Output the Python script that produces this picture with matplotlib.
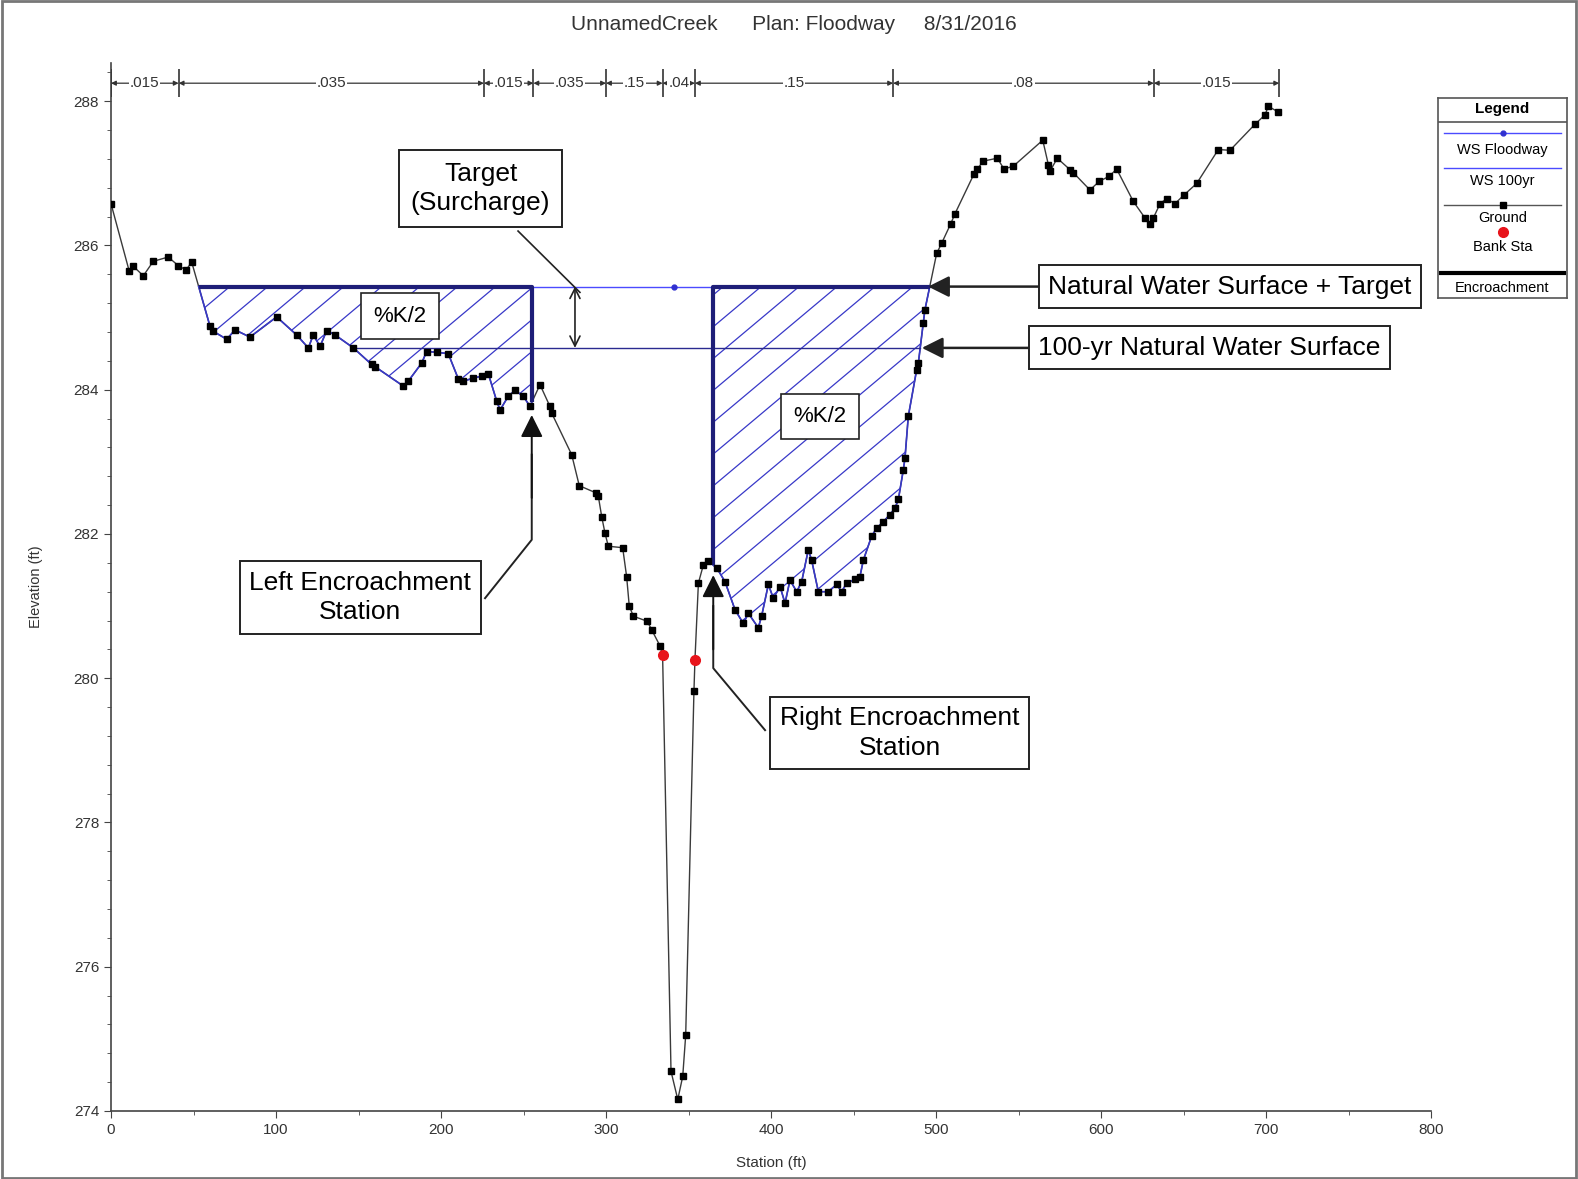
import numpy as np
import matplotlib
matplotlib.use("Agg")
import matplotlib.pyplot as plt
from matplotlib.patches import Polygon, Rectangle

plt.rcParams['font.family'] = ['Liberation Sans', 'DejaVu Sans']

# ground profile (station ft, elevation ft)
station = [0, 11.1, 13.1, 19.6, 25.6, 34.7, 40.8, 45.5, 48.9, 60, 62, 70.1, 75.2, 84.2,
           100.4, 112.5, 119.6, 122.6, 126.7, 130.7, 135.8, 146.9, 158, 160, 177.2, 180.2,
           188.3, 191.3, 197.4, 204.4, 210.5, 213.5, 219.6, 224.7, 228.7, 233.8, 235.8,
           240.8, 244.8, 249.9, 253.9, 260, 266, 267, 279.2, 283.8, 293.9, 295.3, 297.4,
           299.4, 301.4, 310.1, 312.5, 314.1, 316.6, 325, 327.7, 332.7, 334.3, 339.4,
           343.5, 346.5, 348.3, 353.3, 353.9, 356, 359, 362, 367.1, 372.1, 378.2, 383.2,
           386.3, 392.3, 394.3, 398.4, 401.4, 405.5, 408.5, 411.5, 415.6, 418.6, 422.6,
           424.6, 428.7, 434.7, 439.8, 442.8, 445.9, 450.9, 453.9, 456, 461, 464, 468.1,
           472.1, 475.2, 477.2, 480.2, 481.2, 483.2, 488.3, 489.3, 492.3, 493.3, 500.4,
           503.4, 508.9, 511.5, 523, 525, 528.7, 537.2, 541.2, 546.9, 564.7, 568.1, 569.1,
           573.5, 581.2, 583.2, 593.3, 599, 605, 609.5, 619.6, 626.7, 629.7, 631.7, 635.8,
           639.8, 644.8, 650.3, 658, 671.1, 678.2, 693.3, 699.4, 701.4, 707.5]
elevation = [286.58, 285.64, 285.72, 285.58, 285.78, 285.84, 285.72, 285.66, 285.77, 284.88,
             284.81, 284.70, 284.83, 284.73, 285.01, 284.76, 284.58, 284.76, 284.60, 284.82,
             284.76, 284.58, 284.35, 284.32, 284.05, 284.12, 284.37, 284.53, 284.52, 284.50,
             284.15, 284.12, 284.16, 284.19, 284.22, 283.84, 283.72, 283.91, 283.99, 283.91,
             283.77, 284.07, 283.77, 283.68, 283.10, 282.67, 282.57, 282.53, 282.24, 282.01,
             281.83, 281.81, 281.41, 281.00, 280.86, 280.79, 280.67, 280.45, 280.32, 274.55,
             274.16, 274.48, 275.05, 279.82, 280.25, 281.32, 281.57, 281.62, 281.53, 281.34,
             280.95, 280.76, 280.90, 280.70, 280.86, 281.30, 281.11, 281.27, 281.04, 281.36,
             281.20, 281.34, 281.78, 281.64, 281.20, 281.20, 281.30, 281.20, 281.32, 281.37,
             281.41, 281.64, 281.97, 282.08, 282.17, 282.27, 282.36, 282.48, 282.89, 283.05,
             283.63, 284.28, 284.37, 284.93, 285.11, 285.89, 286.03, 286.30, 286.44, 286.99,
             287.06, 287.17, 287.21, 287.06, 287.10, 287.46, 287.12, 287.03, 287.21, 287.05,
             287.01, 286.77, 286.89, 286.96, 287.06, 286.61, 286.38, 286.30, 286.38, 286.58,
             286.65, 286.58, 286.70, 286.86, 287.33, 287.32, 287.68, 287.81, 287.93, 287.85]

bank_sta = [334.3, 353.9]
bank_elev = [280.32, 280.25]

ws_floodway = 285.43
ws_100yr = 284.58
ws_100yr_left = 147.0
enc_left = 255.0
enc_right = 365.0

n_breaks = [0, 41, 226, 256, 300, 334.3, 353.9, 474, 632, 708]
n_values = [".015", ".035", ".015", ".035", ".15", ".04", ".15", ".08", ".015"]

sta = np.array(station)
elev = np.array(elevation)

W, H = 1578, 1179
fig = plt.figure(figsize=(W / 100, H / 100), dpi=100)
ax = fig.add_axes([111 / W, 1 - 1111 / H, 1320 / W, (1111 - 63) / H])
ax.set_xlim(0, 800)
ax.set_ylim(274, 288.53)


def crossing(x0, x1, level):
    # station where the ground crosses a level between two stations
    m = (sta >= x0) & (sta <= x1)
    xs, ys = sta[m], elev[m]
    for i in range(len(xs) - 1):
        if (ys[i] - level) * (ys[i + 1] - level) <= 0:
            return xs[i] + (level - ys[i]) / (ys[i + 1] - ys[i]) * (xs[i + 1] - xs[i])
    return x0


left_start = crossing(40, 70, ws_floodway)
right_end = crossing(480, 510, ws_floodway)
right_100 = crossing(480, 510, ws_100yr)

# encroachment polygons with diagonal hatching
hatch_col = "#3838c8"
slope = np.tan(np.radians(40)) * (1.65 / 72.14)
for a, b in [(left_start, enc_left), (enc_right, right_end)]:
    m = (sta > a) & (sta < b)
    xs = np.concatenate([[a], sta[m], [b], [b, a]])
    ys = np.concatenate([[np.interp(a, sta, elev)], elev[m], [np.interp(b, sta, elev)],
                         [ws_floodway, ws_floodway]])
    poly = Polygon(np.column_stack([xs, ys]), closed=True, facecolor="none",
                   edgecolor=hatch_col, lw=1.2, zorder=3)
    ax.add_patch(poly)
    for c in np.arange(-20, 900, 23.0):
        hx = np.array([c - 700, c + 50])
        hy = ws_floodway + slope * (hx - c)
        ln, = ax.plot(hx, hy, color=hatch_col, lw=0.9, zorder=3)
        ln.set_clip_path(poly)

# ground
ax.plot(sta, elev, color="#3a3a3a", lw=1.0, zorder=2)
ax.plot(sta, elev, ls="none", marker="s", ms=4.5, color="black", zorder=5)
ax.plot(bank_sta, bank_elev, ls="none", marker="o", ms=7, color="#e8141b", zorder=6)

# water surfaces
ax.plot([ws_100yr_left, right_100], [ws_100yr, ws_100yr], color="#2a2a90", lw=1.0, zorder=4)
ax.plot([enc_left, enc_right], [ws_floodway, ws_floodway], color="#4b4bff", lw=1.0, zorder=4)
ax.plot([341], [ws_floodway], ls="none", marker="o", ms=3.5, color="#3030d0", zorder=5)

# encroachment outline
enc_col = "#1e1e78"
ax.plot([left_start, enc_left, enc_left], [ws_floodway, ws_floodway, np.interp(enc_left, sta, elev)],
        color=enc_col, lw=3, zorder=4, solid_capstyle="butt")
ax.plot([enc_right, enc_right, right_end], [np.interp(enc_right, sta, elev), ws_floodway, ws_floodway],
        color=enc_col, lw=3, zorder=4, solid_capstyle="butt")

# Manning's n bar
ny = 288.25
ax.vlines(n_breaks, ny - 0.19, ny + 0.19, color="#333333", lw=1.2, zorder=4)
for i, lab in enumerate(n_values):
    a, b = n_breaks[i], n_breaks[i + 1]
    ax.annotate("", xy=(b, ny), xytext=(a, ny),
                arrowprops=dict(arrowstyle="<|-|>", mutation_scale=7, lw=0.9,
                                color="#333333", shrinkA=0, shrinkB=0))
    ax.text((a + b) / 2, ny, lab, ha="center", va="center", fontsize=11, color="#333333",
            bbox=dict(facecolor="white", edgecolor="none", pad=0.5), zorder=5)

# annotation boxes
afs = 19
box = dict(boxstyle="square,pad=0.36", facecolor="white", edgecolor="#222222", lw=1.4)
box2 = dict(boxstyle="square,pad=0.45", facecolor="white", edgecolor="#222222", lw=1.4)
ax.text(224, 286.79, "Target\n(Surcharge)", ha="center", va="center", fontsize=afs,
        bbox=box2, zorder=7, linespacing=1.3)
ax.plot([246.7, 284.2], [286.20, 285.35], color="#222222", lw=1.2, zorder=6)
ax.annotate("", xy=(281.2, ws_floodway), xytext=(281.2, ws_100yr),
            arrowprops=dict(arrowstyle="<->", lw=1.2, color="#222222", mutation_scale=18,
                            shrinkA=0, shrinkB=0), zorder=6)

kbox = dict(boxstyle="square,pad=0.55", facecolor="white", edgecolor="#222222", lw=1.2)
ax.text(175, 285.02, "%K/2", ha="center", va="center", fontsize=16, bbox=kbox, zorder=7)
ax.text(429.7, 283.63, "%K/2", ha="center", va="center", fontsize=16, bbox=kbox, zorder=7)

ax.annotate("Natural Water Surface + Target", xy=(right_end - 1, ws_floodway), xytext=(568, ws_floodway),
            ha="left", va="center", fontsize=afs, bbox=box, zorder=7,
            arrowprops=dict(arrowstyle="-|>", mutation_scale=32, lw=1.8, color="#222222",
                            shrinkA=0, shrinkB=0))
ax.annotate("100-yr Natural Water Surface", xy=(right_100 + 1, ws_100yr), xytext=(562, ws_100yr),
            ha="left", va="center", fontsize=afs, bbox=box, zorder=7,
            arrowprops=dict(arrowstyle="-|>", mutation_scale=32, lw=1.8, color="#222222",
                            shrinkA=0, shrinkB=0))

ax.text(151, 281.12, "Left Encroachment\nStation", ha="center", va="center", fontsize=afs,
        bbox=box, zorder=7, linespacing=1.3)
ax.plot([226.7, enc_left, enc_left], [281.11, 281.92, 283.1], color="#222222", lw=1.4, zorder=6)
ax.annotate("", xy=(enc_left, 283.65), xytext=(enc_left, 282.5),
            arrowprops=dict(arrowstyle="-|>", mutation_scale=34, lw=1.4, color="#111111",
                            shrinkA=0, shrinkB=0), zorder=6)

ax.text(478, 279.24, "Right Encroachment\nStation", ha="center", va="center", fontsize=afs,
        bbox=box, zorder=7, linespacing=1.3)
ax.plot([396.4, enc_right, enc_right], [279.28, 280.14, 281.0], color="#222222", lw=1.4, zorder=6)
ax.annotate("", xy=(enc_right, 281.43), xytext=(enc_right, 280.4),
            arrowprops=dict(arrowstyle="-|>", mutation_scale=34, lw=1.4, color="#111111",
                            shrinkA=0, shrinkB=0), zorder=6)

# axes styling
for s in ["top", "right"]:
    ax.spines[s].set_visible(False)
for s in ["left", "bottom"]:
    ax.spines[s].set_color("#444444")
    ax.spines[s].set_linewidth(1.2)
ax.set_xticks(np.arange(0, 801, 100))
ax.set_xticks(np.arange(0, 801, 50), minor=True)
ax.set_yticks(np.arange(274, 288.1, 2))
ax.set_yticks(np.arange(274, 288.6, 0.4), minor=True)
ax.tick_params(which="major", direction="out", length=5, color="#444444", labelsize=11,
               labelcolor="#333333")
ax.tick_params(which="minor", direction="out", length=3, color="#444444")
ax.set_xlabel("Station (ft)", fontsize=11, color="#333333", labelpad=14)
ax.set_ylabel("Elevation (ft)", fontsize=10.5, color="#333333", labelpad=22)

fig.text(794 / W, 1 - 25 / H, "UnnamedCreek      Plan: Floodway     8/31/2016",
         ha="center", va="center", fontsize=15, color="#333333")

# legend panel
lg = fig.add_axes([1438 / W, 1 - 298 / H, 129 / W, 200 / H])
lg.set_xlim(0, 129)
lg.set_ylim(200, 0)
lg.set_xticks([])
lg.set_yticks([])
for s in lg.spines.values():
    s.set_color("#555555")
    s.set_linewidth(1.2)
lg.text(64.5, 11, "Legend", ha="center", va="center", fontsize=11, fontweight="bold")
lg.plot([0, 129], [24, 24], color="#555555", lw=1.2)
lg.plot([6, 123], [35, 35], color="#4b4bff", lw=1)
lg.plot([64.5], [35], marker="o", ms=3.5, color="#3030d0")
lg.text(64.5, 52, "WS Floodway", ha="center", va="center", fontsize=10.5)
lg.plot([6, 123], [70, 70], color="#4b4bff", lw=1)
lg.text(64.5, 83, "WS 100yr", ha="center", va="center", fontsize=10.5)
lg.plot([6, 123], [107, 107], color="#555555", lw=1)
lg.plot([64.5], [107], marker="s", ms=4.5, color="black")
lg.text(64.5, 120, "Ground", ha="center", va="center", fontsize=10.5)
lg.plot([64.5], [134], marker="o", ms=7, color="#e8141b")
lg.text(64.5, 149, "Bank Sta", ha="center", va="center", fontsize=10.5)
lg.plot([3, 126], [175, 175], color="black", lw=3)
lg.text(64.5, 190, "Encroachment", ha="center", va="center", fontsize=10.5)

fig.patches.append(Rectangle((0.001, 0.001), 0.998, 0.998, transform=fig.transFigure,
                             fill=False, edgecolor="#777777", lw=2))

fig.savefig("out.png", dpi=100)
